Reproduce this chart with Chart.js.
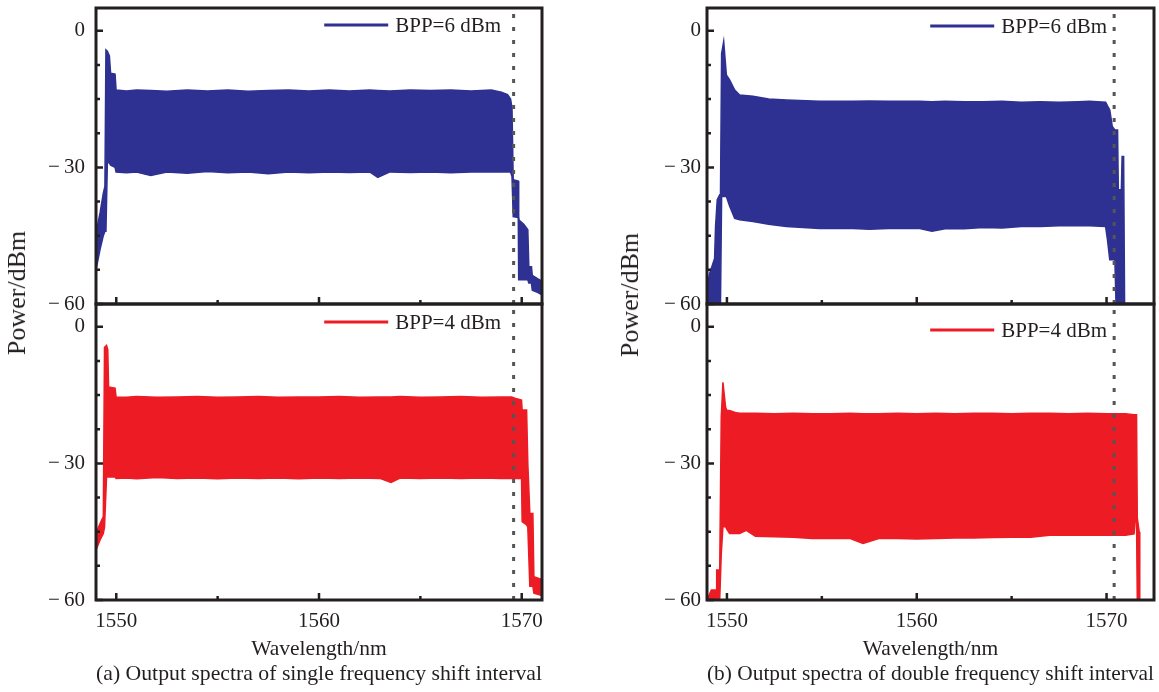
<!DOCTYPE html>
<html>
<head>
<meta charset="utf-8">
<script src="https://cdn.jsdelivr.net/npm/chart.js@4.4.1/dist/chart.umd.min.js"></script>
<style>
html,body{margin:0;padding:0;background:#fff;}
body{width:1159px;height:692px;position:relative;overflow:hidden;}
canvas{position:absolute;}
.ylab{position:absolute;transform:translate(-50%,-50%) rotate(-90deg);font-family:"Liberation Serif","Times New Roman",serif;font-size:26px;color:#231f20;white-space:nowrap;line-height:1;}
</style>
</head>
<body>
<canvas id="aTop" width="560" height="320" style="left:0;top:0"></canvas>
<canvas id="aBot" width="560" height="402" style="left:0;top:290px"></canvas>
<canvas id="bTop" width="560" height="320" style="left:600px;top:0"></canvas>
<canvas id="bBot" width="560" height="402" style="left:600px;top:290px"></canvas>
<div class="ylab" style="left:17px;top:293px">Power/dBm</div>
<div class="ylab" style="left:630px;top:295px">Power/dBm</div>
<script>
// ---------- tick values ----------
const yTickValues = [-60, -52.5, -45, -37.5, -30, -22.5, -15, -7.5, 0];
const yLabelValues = [-60, -30, 0];
const xTickValues = [1550, 1555, 1560, 1565, 1570];
const xLabelValues = [1550, 1560, 1570];

// ---------- (a) single frequency shift interval, BPP = 6 dBm ----------
const aTopWl   = [1549.0,1549.2,1549.36,1549.44,1549.49,1549.56,1549.66,1549.72,1549.94,1549.99,1550.5,1551.0,1551.7,1552.5,1553.5,1554.5,1555.5,1556.5,1557.5,1558.5,1559.5,1560.5,1561.5,1562.5,1562.9,1563.5,1564.5,1565.5,1566.5,1567.5,1568.5,1569.0,1569.3,1569.45,1569.52,1569.58,1569.83,1569.85,1570.1,1570.3,1570.35,1570.48,1570.52,1570.8,1571.0];
const aTopHigh = [-44.5,-40,-35.7,-34.2,-4.2,-4.5,-5.5,-9.3,-9.5,-13,-13.2,-13.0,-13.1,-13.3,-13.0,-13.2,-13.0,-13.3,-13.1,-13.0,-13.2,-13.0,-13.2,-13.0,-13.1,-13.2,-13.0,-13.1,-13.0,-13.2,-13.0,-13.5,-14.0,-15,-17,-32.7,-33,-41.5,-42.5,-43.7,-51.8,-51.8,-53.7,-54.5,-55];
const aTopLow  = [-52.5,-48,-45,-44,-44,-29,-29,-29.5,-30,-31,-31.2,-31.0,-31.8,-31.0,-31.3,-30.9,-31.2,-31.0,-31.4,-31.0,-31.2,-31.0,-31.1,-31.0,-32.2,-31.0,-31.1,-31.0,-31.2,-31.0,-31.0,-31.0,-31.0,-31,-32,-40.8,-41,-54.7,-54.7,-54.7,-55.4,-55.4,-57,-57.5,-58];

// ---------- (a) single frequency shift interval, BPP = 4 dBm ----------
const aBotWl   = [1549.0,1549.2,1549.36,1549.42,1549.52,1549.58,1549.62,1549.94,1549.99,1550.5,1551.0,1552.0,1553.0,1554.0,1555.0,1556.0,1557.0,1558.0,1559.0,1560.0,1561.0,1562.0,1563.0,1563.55,1564.0,1565.0,1566.0,1567.0,1568.0,1569.0,1569.5,1569.66,1569.99,1570.02,1570.24,1570.3,1570.4,1570.55,1570.6,1571.0];
const aBotHigh = [-45.4,-43.2,-41.7,-4.5,-4.1,-5,-13.2,-13.5,-15.4,-15.5,-15.3,-15.5,-15.4,-15.3,-15.5,-15.4,-15.3,-15.5,-15.4,-15.4,-15.3,-15.5,-15.4,-15.4,-15.3,-15.5,-15.4,-15.3,-15.5,-15.4,-15.4,-15.7,-16.1,-18.3,-18.3,-30,-41,-41,-54.9,-55.5];
const aBotLow  = [-49,-46.8,-45.4,-44,-33,-33,-33,-33,-33.3,-33.2,-33.4,-33.1,-33.3,-33.2,-33.4,-33.2,-33.3,-33.2,-33.4,-33.2,-33.3,-33.2,-33.3,-34.2,-33.2,-33.3,-33.2,-33.3,-33.2,-33.3,-33.3,-33.3,-33.3,-42.8,-43.5,-44,-57,-57,-58.5,-59];

// ---------- (b) double frequency shift interval, BPP = 6 dBm ----------
const bTopWl   = [1548.95,1549.09,1549.35,1549.4,1549.49,1549.62,1549.66,1549.72,1549.83,1549.97,1550.14,1550.41,1550.67,1551.37,1552.2,1553.13,1554.89,1556.64,1557.5,1558.5,1559.5,1560.16,1560.8,1561.5,1562.5,1563.5,1564.5,1565.5,1566.5,1567.5,1568.5,1569.1,1569.95,1570.05,1570.17,1570.3,1570.44,1570.5,1570.58,1570.62,1570.78,1570.82,1570.9,1570.95];
const bTopHigh = [-56.2,-53.3,-50,-43,-37.1,-36,-36,-5,-2.35,-9.7,-10.8,-13,-14.1,-14.4,-15,-15.2,-15.5,-15.5,-15.4,-15.5,-15.5,-15.5,-15.6,-15.5,-15.6,-15.6,-15.5,-15.7,-15.6,-15.7,-15.6,-15.5,-15.7,-16.5,-17.4,-21,-21.8,-21.8,-21.8,-34.9,-34.9,-27.6,-27.6,-60];
const bTopLow  = [-60,-60,-60,-60,-60,-60,-60,-36.4,-36.4,-36.4,-38.5,-41.2,-41.5,-41.9,-42.5,-43,-43.4,-43.4,-43.6,-43.4,-43.4,-43.4,-44,-43.5,-43.5,-43.2,-43.3,-43.0,-43.0,-42.8,-42.8,-42.8,-43,-45.9,-50.3,-50.3,-50.3,-60,-60,-60,-60,-60,-60,-60];

// ---------- (b) double frequency shift interval, BPP = 4 dBm ----------
const bBotWl   = [1548.95,1549.18,1549.44,1549.46,1549.62,1549.7,1549.79,1549.93,1550.0,1550.14,1550.5,1550.67,1551.02,1551.5,1552.5,1553.5,1554.5,1555.5,1556.5,1557.17,1558,1559,1560,1561,1562,1563,1564,1565,1566,1567,1568,1569,1570,1571,1571.45,1571.5,1571.58,1571.62,1571.72,1571.75];
const bBotHigh = [-60,-57.8,-57.8,-53.4,-53.4,-20,-12.2,-17.7,-18.4,-18.4,-18.9,-19,-19,-19,-19.1,-19,-19.1,-19.1,-19,-19.1,-19.1,-19,-19.1,-19,-19.1,-19,-19,-19.1,-19,-19,-19.1,-19,-19.1,-19.1,-19.3,-19.3,-19.3,-42,-45,-60];
const bBotLow  = [-60,-60,-60,-60,-60,-50,-43.9,-43.9,-44.5,-45.4,-45.4,-45.4,-44.7,-46,-46.1,-46.2,-46.5,-46.5,-46.5,-47.6,-46.5,-46.5,-46.6,-46.5,-46.4,-46.4,-46.3,-46.2,-46.2,-45.8,-45.8,-45.8,-45.8,-45.8,-45.5,-42.8,-42.8,-60,-60,-60];

// dotted marker wavelengths
const markerA = 1569.6;
const markerB = 1570.4;

const FONT = '"Liberation Serif", "Times New Roman", serif';
const TEXT = '#231f20';
const BLUE = '#2e3192';
const RED = '#ed1c24';

const framePlugin = {
  id: 'frame',
  afterDatasetsDraw(chart, args, opts) {
    const {ctx, chartArea: a, scales: {x, y}} = chart;
    ctx.save();
    ctx.strokeStyle = TEXT;
    ctx.lineWidth = 2.5;
    ctx.beginPath();
    xTickValues.forEach(v => {
      const px = x.getPixelForValue(v);
      const len = xLabelValues.includes(v) ? 7 : 4;
      ctx.moveTo(px, a.bottom); ctx.lineTo(px, a.bottom - len);
    });
    yTickValues.forEach(v => {
      const py = y.getPixelForValue(v);
      const len = yLabelValues.includes(v) ? 7 : 4;
      ctx.moveTo(a.left, py); ctx.lineTo(a.left + len, py);
    });
    ctx.stroke();
    ctx.lineWidth = 3;
    ctx.strokeRect(a.left, a.top, a.right - a.left, a.bottom - a.top);
    // legend inside plot
    const ds = chart.data.datasets[1];
    ctx.font = '21px ' + FONT;
    ctx.fillStyle = TEXT;
    ctx.textBaseline = 'middle';
    ctx.textAlign = 'left';
    const w = ctx.measureText(ds.label).width;
    const tx = a.right - opts.gap - w;
    const ly = a.top + opts.ly;
    ctx.fillText(ds.label, tx, ly + 1);
    ctx.strokeStyle = ds.borderColor;
    ctx.lineWidth = 3;
    ctx.beginPath();
    ctx.moveTo(tx - 7 - 64, ly); ctx.lineTo(tx - 7, ly);
    ctx.stroke();
    ctx.restore();
  }
};

function makeChart(id, c) {
  const datasets = [
    {label: 'marker', data: [{x: c.marker, y: -60}, {x: c.marker, y: 5}], borderColor: '#555555', borderWidth: 3,
     borderDash: [4, 9], pointRadius: 0, fill: false, order: 0, clip: 0},
    {label: c.label, data: c.wl.map((x, i) => ({x, y: c.high[i]})), borderColor: c.color, backgroundColor: c.color,
     borderWidth: 1.5, pointRadius: 0, fill: '+1', order: 1, clip: 0},
    {label: c.label + ' (min)', data: c.wl.map((x, i) => ({x, y: c.low[i]})), borderColor: c.color,
     borderWidth: 1.5, pointRadius: 0, fill: false, order: 2, clip: 0}
  ];
  return new Chart(document.getElementById(id), {
    type: 'line',
    data: {datasets},
    plugins: [framePlugin],
    options: {
      responsive: false,
      animation: false,
      events: [],
      layout: {padding: c.pad},
      scales: {
        x: {
          type: 'linear', min: c.xmin, max: c.xmax,
          afterBuildTicks: s => { s.ticks = xTickValues.map(v => ({value: v})); },
          afterFit: s => { s.height = c.xAxisH; s.paddingLeft = 0; s.paddingRight = 0; },
          grid: {display: false, drawTicks: false},
          border: {display: false},
          ticks: {display: c.showX, autoSkip: false, maxRotation: 0, padding: 9, color: TEXT,
                  font: {family: FONT, size: 21},
                  callback: v => xLabelValues.includes(v) ? String(v) : ''},
          title: {display: c.showX, text: 'Wavelength/nm', color: TEXT,
                  font: {family: FONT, size: 21.5, lineHeight: 1}, padding: {top: 0, bottom: 3}}
        },
        y: {
          type: 'linear', min: -60, max: 5,
          afterBuildTicks: s => { s.ticks = yTickValues.map(v => ({value: v})); },
          afterFit: s => { s.width = c.yAxisW; s.paddingTop = 0; s.paddingBottom = 0; },
          grid: {display: false, drawTicks: false},
          border: {display: false},
          ticks: {padding: c.yPad, color: TEXT, font: {family: FONT, size: 21},
                  callback: v => yLabelValues.includes(v) ? (v < 0 ? '\u2212\u2009' + Math.abs(v) : String(v)) : ''}
        }
      },
      plugins: {
        legend: {display: false},
        tooltip: {enabled: false},
        title: {display: !!c.caption, text: c.caption || '', position: 'bottom', fullSize: false, color: TEXT,
                font: {family: FONT, size: 22, weight: 'normal', lineHeight: 1}, padding: {top: 0, bottom: 7}},
        frame: {gap: c.legGap, ly: c.legY}
      }
    }
  });
}

makeChart('aTop', {wl: aTopWl, high: aTopHigh, low: aTopLow, color: BLUE, label: 'BPP=6 dBm', marker: markerA,
  xmin: 1549, xmax: 1571, pad: {top: 8, right: 18, bottom: 16, left: 0}, yAxisW: 96, yPad: 11, xAxisH: 0,
  showX: false, legGap: 41, legY: 17});
makeChart('aBot', {wl: aBotWl, high: aBotHigh, low: aBotLow, color: RED, label: 'BPP=4 dBm', marker: markerA,
  xmin: 1549, xmax: 1571, pad: {top: 14, right: 18, bottom: 0, left: 0}, yAxisW: 96, yPad: 11, xAxisH: 63,
  showX: true, legGap: 41, legY: 18, caption: '(a) Output spectra of single frequency shift interval'});
makeChart('bTop', {wl: bTopWl, high: bTopHigh, low: bTopLow, color: BLUE, label: 'BPP=6 dBm', marker: markerB,
  xmin: 1548.95, xmax: 1572.5, pad: {top: 8, right: 6, bottom: 16, left: 0}, yAxisW: 107, yPad: 6, xAxisH: 0,
  showX: false, legGap: 47, legY: 18});
makeChart('bBot', {wl: bBotWl, high: bBotHigh, low: bBotLow, color: RED, label: 'BPP=4 dBm', marker: markerB,
  xmin: 1548.95, xmax: 1572.5, pad: {top: 14, right: 6, bottom: 0, left: 0}, yAxisW: 107, yPad: 6, xAxisH: 63,
  showX: true, legGap: 47, legY: 26, caption: '(b) Output spectra of double frequency shift interval'});
</script>
</body>
</html>
